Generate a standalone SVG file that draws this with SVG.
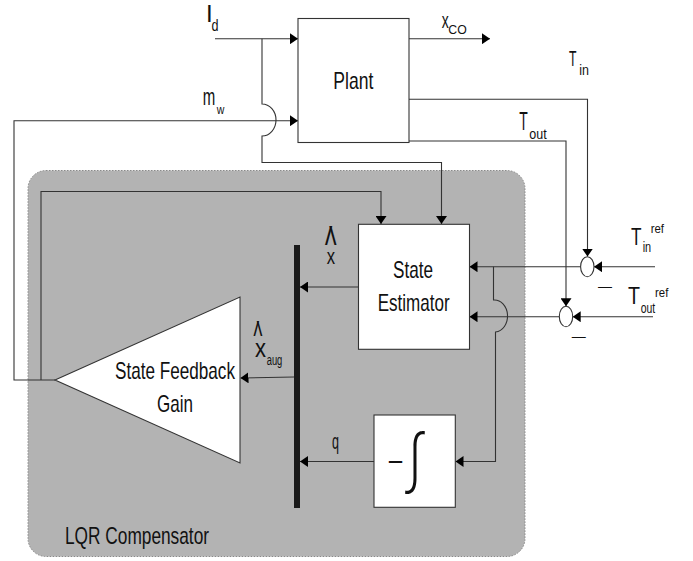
<svg xmlns="http://www.w3.org/2000/svg" width="693" height="561" viewBox="0 0 693 561">
<style>
.ln{fill:none;stroke:#333;stroke-width:1.1}
.arr{marker-end:url(#ah)}
.box{fill:#fff;stroke:#333;stroke-width:1.1}
text{font-family:"Liberation Sans",Arial,sans-serif;fill:#111}
.big{font-size:24px}
.sub{font-size:15px}
.cjk{font-family:"Noto Sans CJK JP","DejaVu Sans",sans-serif;font-weight:300}
.hat{letter-spacing:-3px}
</style>
<defs>
<marker id="ah" markerUnits="userSpaceOnUse" markerWidth="9" markerHeight="11" refX="8" refY="5.5" orient="auto">
<path d="M0,0 L8,5.5 L0,11 z" fill="#000"/>
</marker>
</defs>
<rect width="693" height="561" fill="#fff"/>
<g id="compensator">
<rect x="28" y="170.5" width="497" height="386" rx="18" fill="#b3b3b3" stroke="#8a8a8a" stroke-width="1" stroke-dasharray="1.5,1.5"/>
<text class="big" x="65" y="544" textLength="144" lengthAdjust="spacingAndGlyphs">LQR Compensator</text>
</g>
<g id="connectors">
<path class="ln arr" d="M215,38.7 H298"/>
<path class="ln arr" d="M262,38.7 V104 A14,16 0 0 1 262,136 V162.5 H441.5 V224"/>
<path class="ln arr" d="M55,380 H14 V120.7 H298"/>
<path class="ln arr" d="M41,380 V191.5 H381 V224"/>
<path class="ln arr" d="M409,38.7 H490"/>
<path class="ln arr" d="M409,99.3 H587.5 V256.5"/>
<path class="ln arr" d="M409,141 H566 V306.3"/>
<path class="ln arr" d="M655,266.7 H594"/>
<path class="ln arr" d="M653,316.7 H572.7"/>
<path class="ln arr" d="M580.7,266.7 H469.5"/>
<path class="ln arr" d="M559.3,316.7 H469.5"/>
<path class="ln arr" d="M493.5,266.7 V300 A13,16 0 0 1 495.5,332 V461.5 H455.5"/>
<path class="ln arr" d="M358.5,287 H300"/>
<path class="ln arr" d="M294,377 L240.5,378"/>
<path class="ln arr" d="M374,461.5 H300"/>
</g>
<g id="plant">
<rect class="box" x="298" y="18.5" width="111" height="124"/>
<text class="big" x="333.3" y="89" textLength="40" lengthAdjust="spacingAndGlyphs">Plant</text>
</g>
<g id="state-estimator">
<rect class="box" x="358.5" y="224.3" width="111" height="125"/>
<text class="big" x="393" y="278" textLength="40" lengthAdjust="spacingAndGlyphs">State</text>
<text class="big" x="377.7" y="311" textLength="72" lengthAdjust="spacingAndGlyphs">Estimator</text>
</g>
<g id="state-feedback-gain">
<polygon class="box" points="240,297 240,463 55,380"/>
<text class="big" x="115" y="379" textLength="120" lengthAdjust="spacingAndGlyphs">State Feedback</text>
<text class="big" x="157" y="412" textLength="36" lengthAdjust="spacingAndGlyphs">Gain</text>
</g>
<g id="integrator">
<rect class="box" x="374" y="415" width="81.3" height="92.3"/>
<text x="387.5" y="472" style="font-size:30px" textLength="16" lengthAdjust="spacingAndGlyphs">−</text>
<text class="cjk" transform="translate(415,488) scale(1,1.2)" x="0" y="0" text-anchor="middle" style="font-size:56px">∫</text>
</g>
<g id="bus">
<rect x="294" y="245" width="6" height="263" fill="#1a1a1a"/>
</g>
<g id="sum-in">
<ellipse cx="587.3" cy="266.7" rx="6.7" ry="10" fill="#fff" stroke="#333" stroke-width="1.1"/>
<text x="598" y="291" style="font-size:14px" textLength="14" lengthAdjust="spacingAndGlyphs">—</text>
</g>
<g id="sum-out">
<ellipse cx="566" cy="316.5" rx="6.7" ry="10.2" fill="#fff" stroke="#333" stroke-width="1.1"/>
<text x="571.7" y="340.5" style="font-size:14px" textLength="14" lengthAdjust="spacingAndGlyphs">—</text>
</g>
<g id="labels">
<text class="big" x="206" y="22">I</text>
<text x="211.5" y="30.5" style="font-size:16px" textLength="7" lengthAdjust="spacingAndGlyphs">d</text>
<text x="441.7" y="28" style="font-size:22px" textLength="7" lengthAdjust="spacingAndGlyphs">x</text>
<text x="448.3" y="34.3" style="font-size:13px" textLength="18.4" lengthAdjust="spacingAndGlyphs">CO</text>
<text class="big" x="202.7" y="105" textLength="12.5" lengthAdjust="spacingAndGlyphs">m</text>
<text x="216.7" y="114" style="font-size:13px" textLength="7.6" lengthAdjust="spacingAndGlyphs">w</text>
<text x="569" y="66" style="font-size:22px" textLength="7.5" lengthAdjust="spacingAndGlyphs">T</text>
<text x="579.3" y="75" style="font-size:14px" textLength="9.7" lengthAdjust="spacingAndGlyphs">in</text>
<text x="519.3" y="130" style="font-size:25px" textLength="8.5" lengthAdjust="spacingAndGlyphs">T</text>
<text class="sub" x="529.3" y="139" textLength="17.4" lengthAdjust="spacingAndGlyphs">out</text>
<text x="631" y="245" style="font-size:23px" textLength="10.5" lengthAdjust="spacingAndGlyphs">T</text>
<text x="642.7" y="251.7" style="font-size:14px" textLength="8.5" lengthAdjust="spacingAndGlyphs">in</text>
<text x="650.7" y="233.3" style="font-size:13px" textLength="13.3" lengthAdjust="spacingAndGlyphs">ref</text>
<text x="628" y="304" style="font-size:24px" textLength="12" lengthAdjust="spacingAndGlyphs">T</text>
<text class="sub" x="640.7" y="313" textLength="14.5" lengthAdjust="spacingAndGlyphs">out</text>
<text x="655" y="296.7" style="font-size:13px" textLength="13.3" lengthAdjust="spacingAndGlyphs">ref</text>
<text class="hat" x="325" y="245" style="font-size:26px">/\</text>
<text x="326.7" y="264.3" style="font-size:22px" textLength="8.3" lengthAdjust="spacingAndGlyphs">x</text>
<text class="hat" x="253.5" y="336" style="font-size:20px;letter-spacing:-2.3px">/\</text>
<text x="255" y="357" style="font-size:26px" textLength="11" lengthAdjust="spacingAndGlyphs">x</text>
<text x="266.7" y="364.5" style="font-size:14px" textLength="15.6" lengthAdjust="spacingAndGlyphs">aug</text>
<text x="332" y="449" style="font-size:22px" textLength="7" lengthAdjust="spacingAndGlyphs">q</text>
</g>
</svg>
